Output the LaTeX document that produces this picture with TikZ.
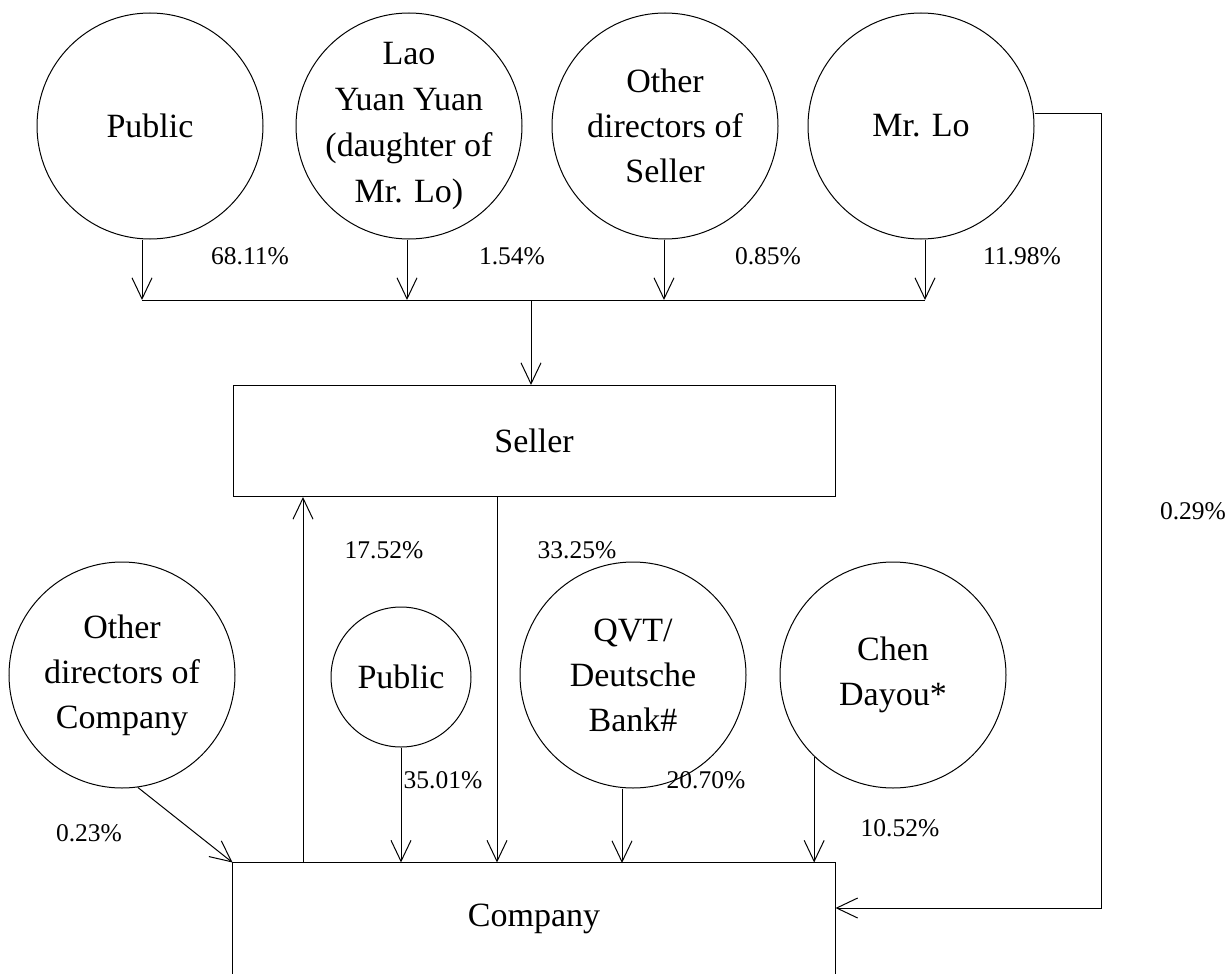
\documentclass[tikz,border=0pt]{standalone}
\usepackage{fontspec}
\setmainfont{Liberation Serif}
\usetikzlibrary{arrows.meta}
\begin{document}
\begin{tikzpicture}[x=1pt,y=-1pt,line width=1pt,
  party/.style={circle,draw,minimum size=226pt,inner sep=0pt,align=center,
    font=\fontsize{34}{45}\selectfont},
  smallparty/.style={party,minimum size=140pt},
  entity/.style={rectangle,draw,minimum width=602pt,minimum height=111pt,inner sep=0pt,
    font=\fontsize{34}{45}\selectfont},
  pct/.style={font=\fontsize{25.5}{30}\selectfont,inner sep=0pt},
  arr/.style={-{Straight Barb[length=21pt,width=20pt]}}]
\useasboundingbox (0,0) rectangle (1229,974);
\clip (0,0) rectangle (1229,974);
% top owners
\node[party] (pubA) at (150,126) {Public};
\node[party,inner sep=-30pt,font=\fontsize{34}{46}\selectfont] (lao) at (409,126) {Lao\\Yuan Yuan\\(daughter of\\Mr. Lo)};
\node[party] (ods) at (665,126) {Other\\directors of\\Seller};
\node[party] (lo) at (921,126) {Mr. Lo};
% seller
\node[entity] (seller) at (534,441) {Seller};
% bus
\coordinate (busL) at (142,300);
\coordinate (busR) at (925,300);
\coordinate (busM) at (531,300);
\draw (busL) -- (busR);
\draw[arr] (pubA.south -| busL) -- (busL);
\draw[arr] (lao.south -| 407,0) -- (407,300);
\draw[arr] (ods.south -| 664,0) -- (664,300);
\draw[arr] (lo.south -| busR) -- (busR);
\draw[arr] (busM) -- (busM |- seller.north);
% percentages top
\node[pct] (p1) at (250,256) {68.11\%};
\node[pct] (p2) at (512,256) {1.54\%};
\node[pct] (p3) at (768,256) {0.85\%};
\node[pct] (p4) at (1022,256) {11.98\%};
% bottom owners
\node[party] (odc) at (122,675) {Other\\directors of\\Company};
\node[smallparty] (pubB) at (401,677) {Public};
\node[party] (qvt) at (633,675) {QVT/\\Deutsche\\Bank\#};
\node[party] (chen) at (893,675) {Chen\\Dayou*};
% company
\node[entity,draw=none] (company) at (534,918.5) {Company};
\draw ([yshift=-30pt]company.south west) -- (company.north west) -- (company.north east) -- ([yshift=-30pt]company.south east);
% connectors to company
\coordinate (up) at (303,863);
\coordinate (down) at (497,497);
\draw[arr] (up) -- (up |- seller.south);
\draw[arr] (down) -- (down |- company.north);
\draw[arr] (odc.-82) -- (company.north west);
\draw[arr] (pubB.south) -- (pubB.south |- company.north);
\draw[arr] (qvt.south -| 622,0) -- (622,863);
\draw[arr] (chen.-134) -- (chen.-134 |- company.north);
\coordinate (loR) at (1101,113);
\draw[arr] (lo.east |- loR) -- (loR) -- (loR |- 0,908) -- (company.east |- 0,908);
% percentages bottom
\node[pct] (p5) at (384,550) {17.52\%};
\node[pct] (p6) at (577,550) {33.25\%};
\node[pct] (p7) at (89,833) {0.23\%};
\node[pct] (p8) at (443,780) {35.01\%};
\node[pct] (p9) at (706,780) {20.70\%};
\node[pct] (p10) at (900,828) {10.52\%};
\node[pct] (p11) at (1193,511) {0.29\%};
\end{tikzpicture}
\end{document}
